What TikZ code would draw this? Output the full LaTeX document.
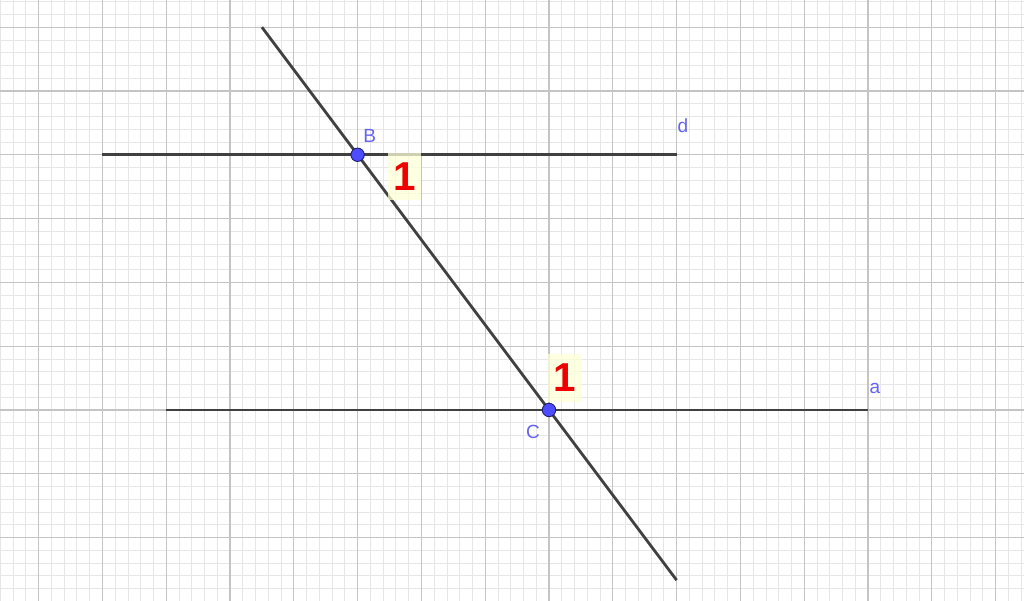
\documentclass[tikz,border=0pt]{standalone}
\usepackage{fontspec}
\setmainfont{Liberation Sans}
\definecolor{gridmaj}{RGB}{196,196,196}
\definecolor{gridmin}{RGB}{230,230,230}
\definecolor{linegray}{RGB}{64,64,64}
\definecolor{ptblue}{RGB}{77,77,255}
\definecolor{ptedge}{RGB}{30,30,110}
\definecolor{lblblue}{RGB}{100,100,240}
\definecolor{anglered}{RGB}{238,0,0}
\definecolor{anglebg}{RGB}{255,255,215}
\tikzset{
  segline/.style={linegray, line width=1.25pt},
  pt/.style={circle, fill=ptblue, draw=ptedge, line width=0.4pt, inner sep=0pt, minimum size=0.21cm},
  lbl/.style={lblblue, font=\fontsize{8.5}{10}\selectfont, inner sep=0pt},
  anglelbl/.style={anglered, font=\fontsize{18}{20}\selectfont\bfseries, fill=anglebg, fill opacity=0.75, text opacity=1, inner sep=0pt, minimum width=0.52cm, minimum height=0.74cm}
}
\begin{document}
\begin{tikzpicture}[x=1cm,y=1cm]
  \useasboundingbox (-8.605,-2.994) rectangle (7.445,6.426);
  % minor grid, skipping the major lines
  \foreach \i in {-43,...,37} {
    \pgfmathtruncatemacro{\r}{mod(abs(\i),5)}
    \ifnum\r>0 \draw[gridmin, line width=0.35pt] (\i/5,-2.994)--(\i/5,6.426); \fi
  }
  \foreach \j in {-14,...,32} {
    \pgfmathtruncatemacro{\r}{mod(abs(\j),5)}
    \ifnum\r>0 \draw[gridmin, line width=0.35pt] (-8.605,\j/5)--(7.445,\j/5); \fi
  }
  \draw[gridmaj, line width=0.5pt, step=1] (-8.605,-2.994) grid (7.445,6.426);
  % lines d, a and the transversal
  \coordinate (d1) at (-7,4); \coordinate (d2) at (2,4);
  \coordinate (a1) at (-6,0); \coordinate (a2) at (5,0);
  \coordinate (t1) at (-4.5,6); \coordinate (t2) at (2,-2.667);
  \draw[segline] (d1)--(d2);
  \draw[segline] (a1)--(a2);
  \draw[segline] (t1)--(t2);
  % angle labels
  \node[anglelbl] (ang1) at (-2.26,3.66) {1};
  \node[anglelbl] (ang2) at (0.25,0.50) {1};
  % points
  \node[pt] (B) at (-3,4) {};
  \node[pt] (C) at (0,0) {};
  \node[lbl] at (-2.81,4.29) {B};
  \node[lbl] at (-0.25,-0.34) {C};
  \node[lbl] at (2.10,4.45) {d};
  \node[lbl] at (5.11,0.33) {a};
\end{tikzpicture}
\end{document}
